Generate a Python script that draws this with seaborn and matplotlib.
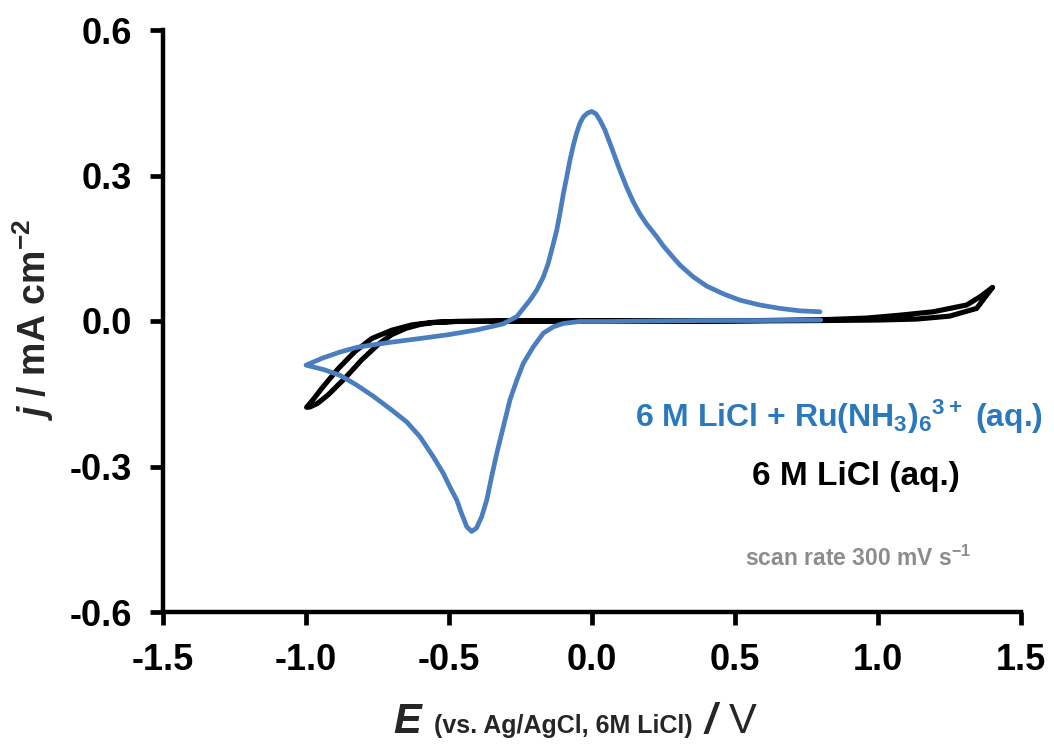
import numpy as np
import pandas as pd
import matplotlib
matplotlib.use("Agg")
import matplotlib.pyplot as plt
import seaborn as sns
from matplotlib.offsetbox import TextArea, HPacker, AnchoredOffsetbox

# ---- cyclic voltammogram data (E in V, j in mA cm^-2) ----
# 6 M LiCl + Ru(NH3)6 3+ : cathodic sweep 0.8 V -> -1.0 V
ru_cath_E = [0.80, 0.60, 0.40, 0.20, 0.05, -0.042, -0.100, -0.135, -0.170, -0.205,
             -0.240, -0.263, -0.287, -0.310, -0.333, -0.351, -0.368, -0.386,
             -0.404, -0.421, -0.438, -0.456, -0.473, -0.497, -0.520, -0.555,
             -0.601, -0.648, -0.706, -0.765, -0.823, -0.881, -0.939, -1.000]
ru_cath_j = [0.002, 0.001, 0.001, 0.000, -0.001, -0.001, -0.005, -0.012, -0.025, -0.053,
             -0.087, -0.122, -0.163, -0.218, -0.273, -0.321, -0.369, -0.404,
             -0.427, -0.434, -0.424, -0.397, -0.369, -0.342, -0.314, -0.280,
             -0.239, -0.208, -0.181, -0.155, -0.132, -0.112, -0.100, -0.091]
# anodic sweep -1.0 V -> 0.8 V
ru_anod_E = [-1.000, -0.940, -0.881, -0.820, -0.706, -0.600, -0.500, -0.400, -0.311,
             -0.263, -0.240, -0.217, -0.193, -0.170, -0.153, -0.135, -0.123,
             -0.112, -0.100, -0.088, -0.077, -0.065, -0.054, -0.042, -0.030,
             -0.015, -0.001, 0.014, 0.028, 0.045, 0.063, 0.080, 0.098, 0.121,
             0.144, 0.167, 0.191, 0.226, 0.249, 0.284, 0.308, 0.354, 0.401, 0.459,
             0.517, 0.587, 0.657, 0.727, 0.797]
ru_anod_j = [-0.091, -0.076, -0.064, -0.054, -0.044, -0.036, -0.028, -0.018, -0.006,
             0.009, 0.026, 0.043, 0.064, 0.091, 0.119, 0.160, 0.188,
             0.222, 0.263, 0.298, 0.332, 0.363, 0.387, 0.408, 0.421,
             0.429, 0.432, 0.427, 0.414, 0.394, 0.366, 0.339, 0.310, 0.276,
             0.246, 0.221, 0.200, 0.174, 0.155, 0.131, 0.115, 0.091, 0.072, 0.056,
             0.043, 0.033, 0.026, 0.021, 0.019]

# 6 M LiCl blank: anodic limit 1.4 V, cathodic limit -1.0 V
licl_E = [1.400, 1.357, 1.310, 1.193, 1.077, 0.960, 0.820, 0.600, 0.300, 0.000,
          -0.300, -0.480, -0.550, -0.600, -0.650, -0.700, -0.747, -0.805, -0.864,
          -0.922, -0.960, -0.985, -0.998,
          -0.975, -0.945, -0.887, -0.829, -0.770, -0.700, -0.630, -0.560, -0.480,
          -0.300, 0.000, 0.500, 0.820, 1.000, 1.135, 1.250, 1.345, 1.400]
licl_j = [0.069, 0.050, 0.033, 0.019, 0.012, 0.006, 0.003, 0.001, 0.000, 0.000,
          0.000, -0.001, -0.003, -0.007, -0.015, -0.028, -0.048, -0.080, -0.118,
          -0.152, -0.170, -0.177, -0.178,
          -0.162, -0.139, -0.098, -0.063, -0.036, -0.019, -0.008, -0.003, -0.001,
          0.000, 0.000, 0.000, 0.001, 0.002, 0.004, 0.010, 0.026, 0.069]

x_ticks = [-1.5, -1.0, -0.5, 0.0, 0.5, 1.0, 1.5]
y_ticks = [-0.6, -0.3, 0.0, 0.3, 0.6]

label_ru = r"6 M LiCl + Ru(NH$_{3}$)$_{6}$$^{3+}$ (aq.)"
label_licl = "6 M LiCl (aq.)"
scan_note = r"scan rate 300 mV s$^{-1}$"
y_label = r"$j$ / mA cm$^{-2}$"

BLUE_LINE = "#4a7ebf"
BLUE_TEXT = "#2b79bd"
GREY_TEXT = "#8c8c8c"

sns.set_theme(style="ticks")
plt.rcParams["font.family"] = ["Liberation Sans", "DejaVu Sans"]
plt.rcParams["mathtext.fontset"] = "custom"
plt.rcParams["mathtext.rm"] = "Liberation Sans:bold"
plt.rcParams["mathtext.bf"] = "Liberation Sans:bold"
plt.rcParams["mathtext.it"] = "Liberation Sans:italic:bold"
plt.rcParams["mathtext.sf"] = "Liberation Sans:bold"

fig = plt.figure(figsize=(10.54, 7.49), dpi=100)
ax = fig.add_axes([163 / 1054, 1 - 612 / 749, 858 / 1054, 582 / 749])

df_licl = pd.DataFrame({"E": licl_E, "j": licl_j})
df_ru = pd.DataFrame({"E": ru_cath_E + ru_anod_E, "j": ru_cath_j + ru_anod_j})

sns.lineplot(data=df_licl, x="E", y="j", sort=False, estimator=None, color="black",
             linewidth=3.7, ax=ax, solid_joinstyle="round", solid_capstyle="round")
sns.lineplot(data=df_ru, x="E", y="j", sort=False, estimator=None, color=BLUE_LINE,
             linewidth=3.4, ax=ax, solid_joinstyle="round", solid_capstyle="round")

ax.set_xlim(-1.5, 1.5)
ax.set_ylim(-0.6, 0.6)
ax.set_xticks(x_ticks)
ax.set_yticks(y_ticks)
ax.set_xticklabels([f"{v:.1f}" for v in x_ticks], fontweight="bold")
ax.set_yticklabels([f"{v:.1f}" for v in y_ticks], fontweight="bold")
ax.set_xlabel("")
ax.set_ylabel("")

sns.despine(ax=ax)
for side in ("left", "bottom"):
    ax.spines[side].set_linewidth(3.2)
    ax.spines[side].set_color("black")
ax.tick_params(axis="both", direction="out", length=9.5, width=3.4, color="black",
               labelsize=26, pad=13, labelcolor="black")

# y-axis label
fig.text(33 / 1054, 1 - 320 / 749, y_label, rotation=90,
         ha="center", va="center", fontsize=27, fontweight="bold")

# x-axis label built from mixed-size pieces
parts = [
    TextArea("E", textprops=dict(fontsize=30, fontstyle="italic", fontweight="bold")),
    TextArea("(vs. Ag/AgCl, 6M LiCl)", textprops=dict(fontsize=18, fontweight="bold")),
    TextArea("/", textprops=dict(fontsize=30, fontstyle="italic", fontweight="bold")),
    TextArea("V", textprops=dict(fontsize=30)),
]
xlab = HPacker(children=parts, align="baseline", pad=0, sep=9)
anch = AnchoredOffsetbox(loc="center", child=xlab, frameon=False, pad=0, borderpad=0,
                         bbox_to_anchor=(575 / 1054, 1 - 722 / 749),
                         bbox_transform=fig.transFigure)
fig.add_artist(anch)

# curve annotations
fig.text(839 / 1054, 1 - 417 / 749, label_ru, ha="center", va="center",
         fontsize=23, fontweight="bold", color=BLUE_TEXT)
fig.text(856 / 1054, 1 - 477 / 749, label_licl, ha="center", va="center",
         fontsize=24, fontweight="bold", color="black")
fig.text(858 / 1054, 1 - 558 / 749, scan_note, ha="center", va="center",
         fontsize=16.5, fontweight="bold", color=GREY_TEXT)

fig.savefig("out.png", dpi=100, facecolor="white")
